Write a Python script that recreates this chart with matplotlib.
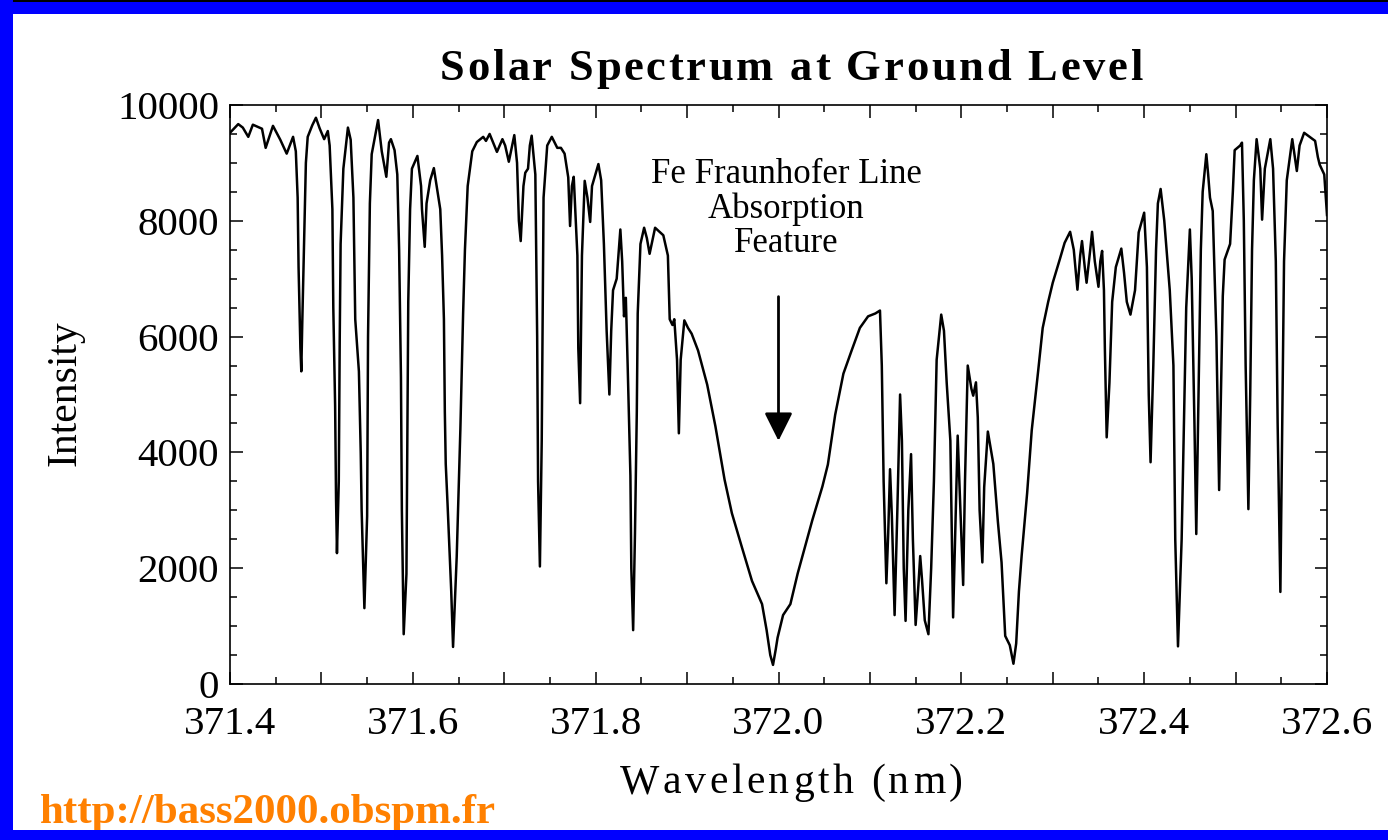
import matplotlib
matplotlib.use('Agg')
import matplotlib.pyplot as plt
from matplotlib.font_manager import FontProperties
from matplotlib.patches import Rectangle
from matplotlib.ticker import MultipleLocator

plt.rcParams['font.family'] = ['Liberation Serif', 'DejaVu Serif']

# spectrum samples (nm, counts)
wavelength = [
    371.400, 371.409, 371.414, 371.420, 371.425, 371.435, 371.439, 371.447, 371.455, 371.462,
    371.469, 371.472, 371.474, 371.475, 371.477, 371.478, 371.479, 371.481, 371.483, 371.485,
    371.490, 371.494, 371.498, 371.503, 371.507, 371.509, 371.512, 371.513, 371.515, 371.516,
    371.517, 371.519, 371.520, 371.521, 371.524, 371.529, 371.532, 371.535, 371.537, 371.541,
    371.543, 371.544, 371.547, 371.550, 371.551, 371.553, 371.555, 371.562, 371.566, 371.571,
    371.574, 371.576, 371.580, 371.583, 371.585, 371.587, 371.588, 371.590, 371.593, 371.594,
    371.595, 371.597, 371.599, 371.605, 371.609, 371.610, 371.613, 371.615, 371.619, 371.623,
    371.630, 371.632, 371.634, 371.635, 371.636, 371.638, 371.642, 371.644, 371.648, 371.652,
    371.655, 371.657, 371.660, 371.665, 371.670, 371.677, 371.680, 371.684, 371.692, 371.698,
    371.701, 371.705, 371.711, 371.714, 371.716, 371.718, 371.721, 371.723, 371.726, 371.728,
    371.730, 371.734, 371.736, 371.737, 371.739, 371.741, 371.742, 371.743, 371.747, 371.752,
    371.758, 371.762, 371.766, 371.770, 371.772, 371.774, 371.776, 371.780, 371.781, 371.783,
    371.785, 371.788, 371.791, 371.794, 371.796, 371.803, 371.806, 371.809, 371.812, 371.815,
    371.817, 371.819, 371.823, 371.827, 371.829, 371.831, 371.833, 371.835, 371.838, 371.839,
    371.841, 371.843, 371.845, 371.846, 371.849, 371.853, 371.856, 371.859, 371.865, 371.874,
    371.879, 371.881, 371.884, 371.886, 371.889, 371.891, 371.893, 371.897, 371.901, 371.905,
    371.912, 371.922, 371.931, 371.941, 371.949, 371.960, 371.971, 371.982, 371.987, 371.991,
    371.994, 371.997, 371.999, 372.005, 372.013, 372.021, 372.037, 372.048, 372.054, 372.062,
    372.071, 372.080, 372.089, 372.098, 372.106, 372.111, 372.113, 372.115, 372.118, 372.120,
    372.122, 372.124, 372.127, 372.130, 372.133, 372.135, 372.137, 372.139, 372.142, 372.145,
    372.147, 372.150, 372.153, 372.155, 372.157, 372.160, 372.164, 372.167, 372.170, 372.173,
    372.178, 372.181, 372.184, 372.188, 372.191, 372.194, 372.196, 372.199, 372.202, 372.204,
    372.207, 372.211, 372.213, 372.216, 372.218, 372.220, 372.223, 372.225, 372.229, 372.235,
    372.240, 372.244, 372.248, 372.253, 372.257, 372.260, 372.263, 372.266, 372.272, 372.277,
    372.284, 372.289, 372.295, 372.300, 372.308, 372.313, 372.319, 372.323, 372.327, 372.330,
    372.332, 372.335, 372.337, 372.341, 372.343, 372.346, 372.350, 372.352, 372.354, 372.356,
    372.357, 372.359, 372.362, 372.365, 372.369, 372.375, 372.378, 372.381, 372.385, 372.390,
    372.394, 372.400, 372.403, 372.405, 372.407, 372.410, 372.413, 372.415, 372.418, 372.422,
    372.428, 372.432, 372.434, 372.437, 372.441, 372.446, 372.450, 372.452, 372.455, 372.457,
    372.460, 372.462, 372.464, 372.468, 372.470, 372.472, 372.475, 372.479, 372.481, 372.482,
    372.484, 372.486, 372.488, 372.494, 372.497, 372.499, 372.505, 372.507, 372.509, 372.511,
    372.514, 372.516, 372.518, 372.520, 372.523, 372.527, 372.529, 372.532, 372.538, 372.541,
    372.544, 372.546, 372.549, 372.551, 372.553, 372.556, 372.562, 372.567, 372.570, 372.575,
    372.581, 372.587, 372.590, 372.592, 372.597, 372.600,
]
intensity = [
    9520, 9670, 9610, 9450, 9660, 9590, 9260, 9640, 9400, 9160,
    9450, 9200, 8400, 7200, 5800, 5400, 6200, 7600, 9000, 9450,
    9650, 9780, 9600, 9410, 9550, 9300, 8200, 6500, 4800, 3200,
    2260, 3500, 5900, 7600, 8900, 9610, 9400, 8400, 6300, 5400,
    4000, 3000, 1310, 2900, 6000, 8300, 9150, 9740, 9200, 8760,
    9350, 9410, 9220, 8800, 7500, 5300, 3000, 860, 1900, 4400,
    6600, 8200, 8900, 9120, 8600, 8200, 7550, 8300, 8700, 8910,
    8200, 7400, 6300, 4700, 3800, 3100, 1600, 640, 2200, 4400,
    6400, 7500, 8600, 9200, 9360, 9450, 9380, 9500, 9190, 9410,
    9300, 9020, 9480, 9000, 8000, 7650, 8600, 8830, 8900, 9300,
    9470, 8800, 6000, 3500, 2030, 4200, 6400, 8400, 9300, 9450,
    9260, 9260, 9160, 8750, 7910, 8600, 8760, 7400, 5800, 4850,
    7400, 8690, 8400, 7980, 8600, 8980, 8700, 7600, 6100, 5000,
    6100, 6800, 7000, 7850, 7300, 6350, 6670, 5500, 3600, 2000,
    930, 2600, 4700, 6400, 7600, 7880, 7700, 7430, 7880, 7750,
    7400, 6300, 6200, 6300, 5600, 4330, 5600, 6280, 6150, 6050,
    5760, 5170, 4450, 3530, 2950, 2360, 1780, 1380, 930, 500,
    330, 600, 800, 1190, 1380, 1910, 2830, 3410, 3790, 4650,
    5360, 5760, 6150, 6350, 6400, 6450, 5500, 3500, 1740, 2600,
    3710, 2900, 1190, 3000, 5000, 4200, 2000, 1090, 3000, 3970,
    2500, 1020, 1700, 2210, 1800, 1100, 860, 2000, 3500, 5600,
    6380, 6100, 5200, 4200, 1150, 3000, 4290, 3000, 1710, 3500,
    5500, 5100, 4980, 5210, 4600, 3000, 2100, 3400, 4360, 3800,
    2800, 2100, 830, 670, 350, 700, 1600, 2220, 3300, 4380,
    5400, 6150, 6600, 6930, 7350, 7620, 7810, 7500, 6810, 7400,
    7650, 7200, 6930, 7500, 7810, 7300, 6860, 7300, 7480, 6800,
    5800, 4260, 5200, 6600, 7200, 7520, 7100, 6600, 6380, 6800,
    7800, 8140, 7200, 5000, 3830, 5500, 7500, 8300, 8550, 8000,
    6800, 5500, 2500, 650, 2500, 6500, 7850, 7000, 4500, 2590,
    5500, 7500, 8500, 9150, 8800, 8400, 8170, 6000, 4200, 3350,
    5000, 6700, 7330, 7600, 8500, 9220, 9300, 9350, 8000, 5500,
    3020, 5000, 7500, 8700, 9410, 8900, 8020, 8900, 9410, 8900,
    7300, 4500, 1590, 4500, 7300, 8700, 9410, 8860, 9300, 9520,
    9450, 9380, 9100, 8970, 8800, 8100,
]

x_ticks = [371.4, 371.5, 371.6, 371.7, 371.8, 371.9, 372.0, 372.1, 372.2, 372.3, 372.4, 372.5, 372.6]
x_tick_labels = ['371.4', '', '371.6', '', '371.8', '', '372.0', '', '372.2', '', '372.4', '', '372.6']
y_ticks = [0, 2000, 4000, 6000, 8000, 10000]

fig = plt.figure(figsize=(13.88, 8.4), dpi=100)
W, H = 1388, 840
ax = fig.add_axes([230 / W, 1 - 684 / H, 1097 / W, 579 / H])

ax.plot(wavelength, intensity, color='black', lw=1.8)
ax.set_xlim(371.4, 372.6)
ax.set_ylim(0, 10000)
ax.set_xticks(x_ticks, x_tick_labels)
ax.xaxis.set_minor_locator(MultipleLocator(0.05))
ax.set_yticks(y_ticks)
ax.yaxis.set_minor_locator(MultipleLocator(500))
ax.tick_params(which='both', direction='in', top=True, right=True, width=1.1, labelsize=29.5)
ax.tick_params(which='major', length=9)
ax.tick_params(which='minor', length=5)
ax.tick_params(axis='x', pad=16)
ax.tick_params(axis='y', pad=8)
for sp in ax.spines.values():
    sp.set_linewidth(1.2)

renderer = fig.canvas.get_renderer()


def tracked_text(s, xc, y_base, width, size, weight='normal', color='black'):
    # lay out characters one by one so the string spans the given width
    prop = FontProperties(family='Liberation Serif', size=size, weight=weight)
    ref = renderer.get_text_width_height_descent('XX', prop, ismath=False)[0]
    adv = [renderer.get_text_width_height_descent('X' + c + 'X', prop, ismath=False)[0] - ref for c in s]
    gap = (width - sum(adv)) / (len(s) - 1)
    x = xc - width / 2
    for c, a in zip(s, adv):
        if c != ' ':
            fig.text(x / W, 1 - y_base / H, c, ha='left', va='baseline',
                     fontproperties=prop, color=color)
        x += a + gap


tracked_text('Solar Spectrum at Ground Level', 791, 80, 703, 32, weight='bold')
tracked_text('Wavelength (nm)', 791, 793, 343, 30)
fig.text(65 / W, 1 - 393 / H, 'Intensity', rotation=90, ha='center', va='center', fontsize=30)

# annotation pointing at the broad iron line
fig.text(786 / W, 1 - 209 / H, 'Fe Fraunhofer Line\nAbsorption\nFeature',
         ha='center', va='center', fontsize=25, linespacing=1.05)
ax.annotate('', xy=(372.0, 4200), xytext=(372.0, 6690),
            arrowprops=dict(arrowstyle='-|>,head_length=0.4,head_width=0.2',
                            mutation_scale=43, lw=2, color='black',
                            shrinkA=0, shrinkB=0))

fig.text(40 / W, 1 - 823 / H, 'http://bass2000.obspm.fr', ha='left', va='baseline',
         fontsize=31, fontweight='bold', color='#FF8000')

# blue frame
frame = [
    (0, 1 - 14 / H, 1, 12 / H, '#0000FF'),
    (0, 1 - 2 / H, 1, 2 / H, 'black'),
    (0, 0, 13 / W, 1, '#0000FF'),
    (0, 0, 1, 10 / H, '#0000FF'),
]
for x0, y0, w, h, c in frame:
    fig.patches.append(Rectangle((x0, y0), w, h, transform=fig.transFigure,
                                 facecolor=c, edgecolor='none', zorder=5))

fig.savefig('out.png', dpi=100)
